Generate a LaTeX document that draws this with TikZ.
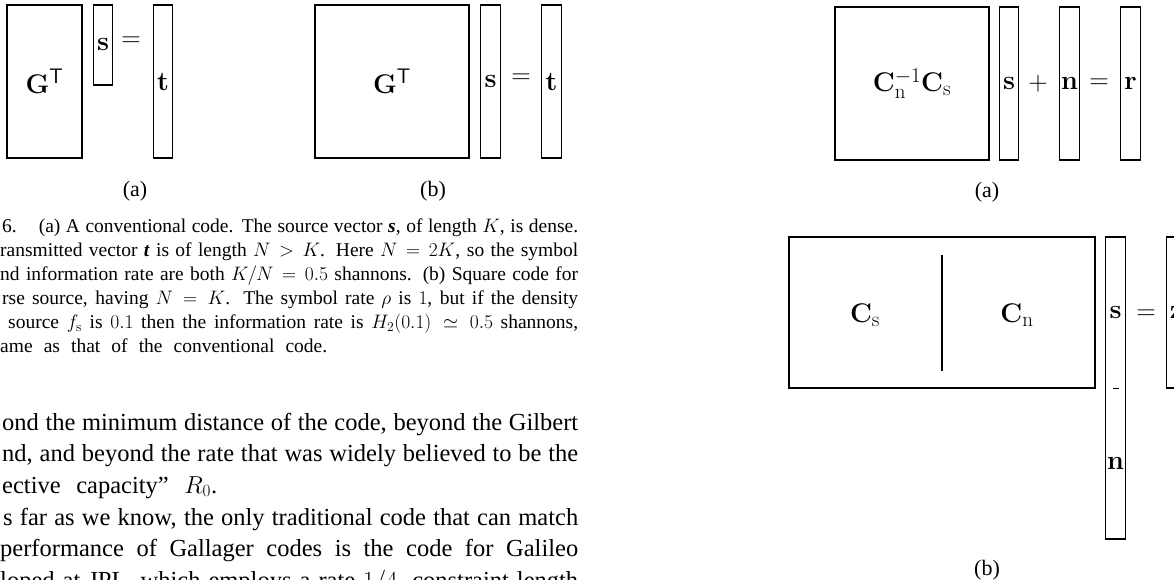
\documentclass[tikz,border=0pt]{standalone}
\usepackage{fix-cm}
\usepackage{amsmath,amssymb}
\usepackage[no-math]{fontspec}
\setmainfont{Liberation Serif}
\usepackage{tikz}
\usetikzlibrary{positioning,calc}
\DeclareMathSizes{27}{27}{21}{16}
\newcommand{\figsize}{\fontsize{27}{31}\selectfont}
\newcommand{\tagsize}{\fontsize{22}{26}\selectfont}
\newcommand{\capsize}{\fontsize{19.5}{24}\selectfont}
\newcommand{\bodysize}{\fontsize{24.5}{31}\selectfont}
\newcommand{\vb}[1]{\mathbf{#1}}
\newcommand{\bit}[1]{\textbf{\textit{#1}}}

\begin{document}
\begin{tikzpicture}[x=1pt,y=-1pt]
\tikzset{mat/.style={draw,line width=1.3pt,inner sep=0pt,font=\figsize}, vec/.style={mat,minimum width=19.5pt}, sym/.style={inner sep=0pt,font=\figsize}, tag/.style={inner sep=0pt,font=\tagsize}, capline/.style={anchor=base west,inner sep=0pt,font=\capsize}, bodyline/.style={anchor=base west,inner sep=0pt,font=\bodysize}}
\useasboundingbox (0,0) rectangle (1174,580);
\fill[white] (0,0) rectangle (1174,580);
% left figure, (a) and (b)
\node[mat,minimum width=75pt,minimum height=153pt] (GTa) at (44.5,81.5) {$\vb{G}^{\mathsf{T}}$};
\node[vec,minimum height=80pt] (sa) at (103,45) {$\vb{s}$};
\node[sym] (eqa) at (131,42) {$=$};
\node[vec,minimum height=153pt] (ta) at (163,81.5) {$\vb{t}$};
\node[tag] (taga) at (135,191) {(a)};
\node[mat,minimum width=154pt,minimum height=153pt] (GTb) at (392,81.5) {$\vb{G}^{\mathsf{T}}$};
\node[vec,minimum height=153pt] (sb) at (490.5,81.5) {$\vb{s}$};
\node[sym] (eqb) at (521,79) {$=$};
\node[vec,minimum height=153pt] (tb) at (551.5,81.5) {$\vb{t}$};
\node[tag] (tagb) at (433,191) {(b)};
% right figure, (a)
\node[mat,minimum width=154pt,minimum height=153pt] (CnCs) at (912,83.5) {$\vb{C}_{\mathrm{n}}^{-1}\vb{C}_{\mathrm{s}}$};
\node[vec,minimum height=153pt] (sc) at (1009,83.5) {$\vb{s}$};
\node[sym] (plus) at (1038,83.5) {$+$};
\node[vec,minimum height=153pt] (nc) at (1069.5,83.5) {$\vb{n}$};
\node[sym] (eqc) at (1099,83.5) {$=$};
\node[vec,minimum height=153pt] (rc) at (1130.5,83.5) {$\vb{r}$};
\node[tag] (tagc) at (987,192) {(a)};
% right figure, (b)
\node[mat,minimum width=306pt,minimum height=151pt] (CsCn) at (942,312.5) {};
\draw[line width=1.5pt] ($(CsCn.north)+(0,19)$) -- ($(CsCn.south)+(0,-18)$);
\node[sym] (Cs) at (865,315) {$\vb{C}_{\mathrm{s}}$};
\node[sym] (Cn) at (1017,315) {$\vb{C}_{\mathrm{n}}$};
\node[vec,minimum height=302pt] (snd) at (1115.5,388) {};
\node[sym] (sd) at (1115.5,312) {$\vb{s}$};
\node[sym] (nd) at (1115.5,463) {$\vb{n}$};
\draw[line width=1pt] ($(snd.center)+(-3,0)$) -- ($(snd.center)+(3,0)$);
\node[sym] (eqd) at (1146,315) {$=$};
\node[vec,minimum height=151pt] (zd) at (1176.5,312.5) {$\vb{z}$};
\node[tag] (tagd) at (987,570) {(b)};
% caption
\node[capline] (cap1) at (2,232.5) {\makebox[576pt][s]{6.\hspace{22pt}(a) A conventional code. The source vector \bit{s}, of length $K$, is dense.}};
\node[capline] (cap2) at (0,256.5) {\makebox[578pt][s]{ransmitted vector \bit{t} is of length $N > K$. Here $N = 2K$, so the symbol}};
\node[capline] (cap3) at (0,280.5) {\makebox[578pt][s]{nd information rate are both $K/N = 0.5$ shannons. (b) Square code for}};
\node[capline] (cap4) at (2,304.5) {\makebox[576pt][s]{rse source, having $N = K$. The symbol rate $\rho$ is $1$, but if the density}};
\node[capline] (cap5) at (8,328.5) {\makebox[570pt][s]{source $f_{\mathrm{s}}$ is $0.1$ then the information rate is $H_2(0.1) \simeq 0.5$ shannons,}};
\node[capline] (cap6) at (0,352.5) {\makebox[327pt][s]{ame as that of the conventional code.}};
% body text
\node[bodyline] (body1) at (2,430) {\makebox[576pt][s]{ond the minimum distance of the code, beyond the Gilbert}};
\node[bodyline] (body2) at (2,461) {\makebox[576pt][s]{nd, and beyond the rate that was widely believed to be the}};
\node[bodyline] (body3) at (2,493) {\makebox[215pt][s]{ective capacity'' $R_0$.}};
\node[bodyline] (body4) at (3,525) {\makebox[575pt][s]{s far as we know, the only traditional code that can match}};
\node[bodyline] (body5) at (0,556) {\makebox[578pt][s]{performance of Gallager codes is the code for Galileo}};
\node[bodyline] (body6) at (0,588) {\makebox[578pt][s]{loped at JPL, which employs a rate $1/4$, constraint length}};
\end{tikzpicture}
\end{document}
